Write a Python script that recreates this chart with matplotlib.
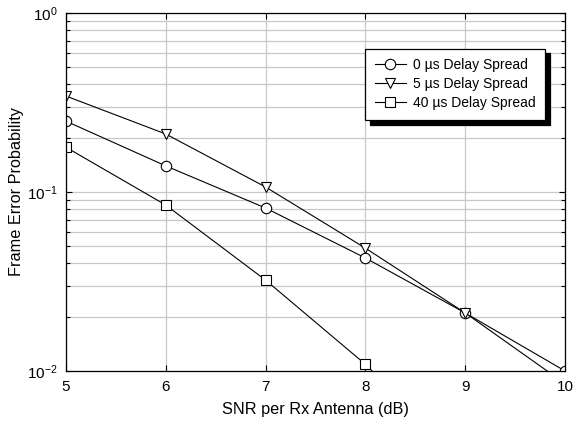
import matplotlib
matplotlib.use("Agg")
import matplotlib.pyplot as plt
from matplotlib.ticker import LogLocator, NullFormatter, MultipleLocator

plt.rcParams['font.family'] = ['Liberation Sans', 'DejaVu Sans']
plt.rcParams['mathtext.default'] = 'regular'

snr = [5, 6, 7, 8, 9, 10]
fep_0us = [0.249, 0.140, 0.0814, 0.0428, 0.0211, 0.0100]
fep_5us = [0.344, 0.211, 0.1067, 0.0486, 0.0211, 0.0085]
snr_40 = [5, 6, 7, 8, 9]
fep_40us = [0.178, 0.0846, 0.0322, 0.0109, 0.0030]

labels = ['0 \u00b5s Delay Spread', '5 \u00b5s Delay Spread', '40 \u00b5s Delay Spread']

fig = plt.figure(figsize=(5.73, 4.22), dpi=100)
ax = fig.add_axes([0.115, 0.121, 0.871, 0.848])

style = dict(color='black', lw=0.8, markerfacecolor='white', markeredgecolor='black',
             markeredgewidth=0.8, markersize=7.5)
ax.plot(snr, fep_0us, marker='o', label=labels[0], **style)
ax.plot(snr, fep_5us, marker='v', label=labels[1], **style)
ax.plot(snr_40, fep_40us, marker='s', label=labels[2], **dict(style, markersize=6.5))

ax.set_yscale('log')
ax.set_xlim(5, 10)
ax.set_ylim(1e-2, 1e0)
ax.xaxis.set_major_locator(MultipleLocator(1))
ax.yaxis.set_major_locator(LogLocator(base=10, numticks=10))
ax.yaxis.set_minor_locator(LogLocator(base=10, subs=range(2, 10), numticks=10))
ax.yaxis.set_minor_formatter(NullFormatter())

ax.grid(True, which='both', color='#c8c8c8', lw=0.9)
ax.set_axisbelow(True)
ax.tick_params(which='both', direction='in', top=True, right=True, labelsize=11, length=4, width=0.8)
ax.tick_params(which='minor', length=3)
ax.tick_params(axis='x', pad=6.5)
ax.tick_params(axis='y', pad=6)
for s in ax.spines.values():
    s.set_linewidth(0.9)

ax.set_xlabel('SNR per Rx Antenna (dB)', fontsize=11.7, labelpad=6)
ax.set_ylabel('Frame Error Probability', fontsize=11.7, labelpad=2)

leg = ax.legend(loc='upper right', bbox_to_anchor=(0.960, 0.901), fontsize=10,
                fancybox=False, framealpha=1, edgecolor='black', handlelength=2.2,
                borderpad=0.7, borderaxespad=0, labelspacing=0.35, handletextpad=0.5,
                shadow={'ox': 3.5, 'oy': -3.5, 'color': 'black', 'alpha': 1})
leg.get_frame().set_linewidth(0.9)

fig.savefig('out.png', dpi=100)
